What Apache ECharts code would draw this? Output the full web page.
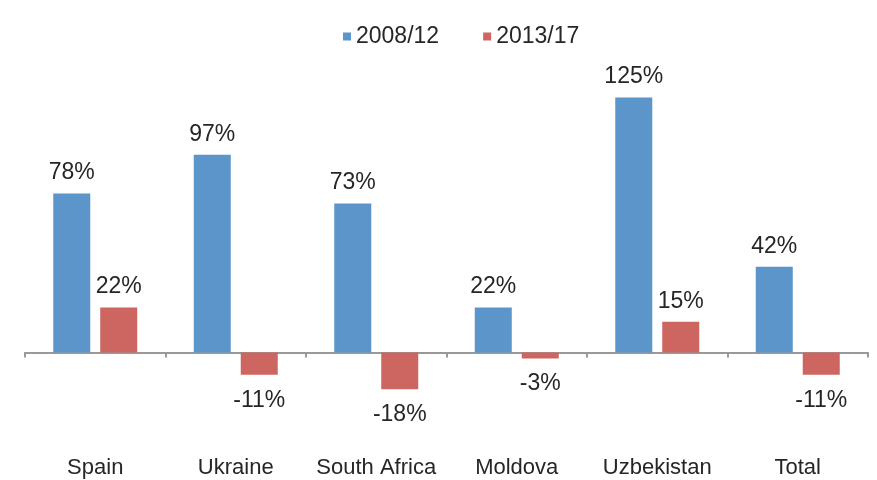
<!DOCTYPE html>
<html>
<head>
<meta charset="utf-8">
<script src="https://cdn.jsdelivr.net/npm/echarts@6/dist/echarts.min.js"></script>
<style>
  html, body { margin: 0; padding: 0; background: #fff; }
  #chart { width: 877px; height: 480px; }
</style>
</head>
<body>
<div id="chart"></div>
<script>
// Growth by country, two periods (percent)
const countries = ['Spain', 'Ukraine', 'South Africa', 'Moldova', 'Uzbekistan', 'Total'];
const period1Name = '2008/12';
const period2Name = '2013/17';
const period1 = [78, 97, 73, 22, 125, 42];
const period2 = [22, -11, -18, -3, 15, -11];

const FONT = '"Liberation Sans", Arial, sans-serif';
const TEXT = '#262626';

function labelFor(values) {
  return values.map(v => ({
    value: v,
    label: {
      show: true,
      position: v >= 0 ? 'top' : 'bottom',
      distance: v >= 0 ? 9 : 14,
      formatter: '{c}%',
      fontFamily: FONT,
      fontSize: 23,
      color: TEXT
    }
  }));
}

const chart = echarts.init(document.getElementById('chart'), null, { renderer: 'canvas' });
chart.setOption({
  animation: false,
  backgroundColor: '#ffffff',
  legend: {
    top: 20,
    left: 338,
    itemWidth: 8,
    itemHeight: 8,
    itemGap: 44,
    icon: 'rect',
    textStyle: { fontFamily: FONT, fontSize: 23, color: TEXT },
    data: [period1Name, period2Name]
  },
  grid: { left: 25, width: 843, top: 67, height: 367 },
  xAxis: [
    {
      type: 'category',
      data: countries,
      axisLine: { onZero: true, lineStyle: { color: '#999999', width: 2 } },
      axisTick: { show: true, inside: false, length: 5, lineStyle: { color: '#999999', width: 2 } },
      axisLabel: { show: false }
    },
    {
      type: 'category',
      data: countries,
      position: 'bottom',
      axisLine: { show: false },
      axisTick: { show: false },
      axisLabel: { interval: 0, margin: 23, fontFamily: FONT, fontSize: 22, color: TEXT }
    }
  ],
  yAxis: {
    type: 'value',
    min: -40,
    max: 140,
    show: false,
    splitLine: { show: false }
  },
  series: [
    {
      name: period1Name,
      type: 'bar',
      barWidth: 37,
      barGap: '27%',
      itemStyle: { color: '#5B95C9' },
      data: labelFor(period1)
    },
    {
      name: period2Name,
      type: 'bar',
      barWidth: 37,
      barGap: '27%',
      itemStyle: { color: '#CD6561' },
      data: labelFor(period2)
    }
  ]
});
</script>
</body>
</html>
